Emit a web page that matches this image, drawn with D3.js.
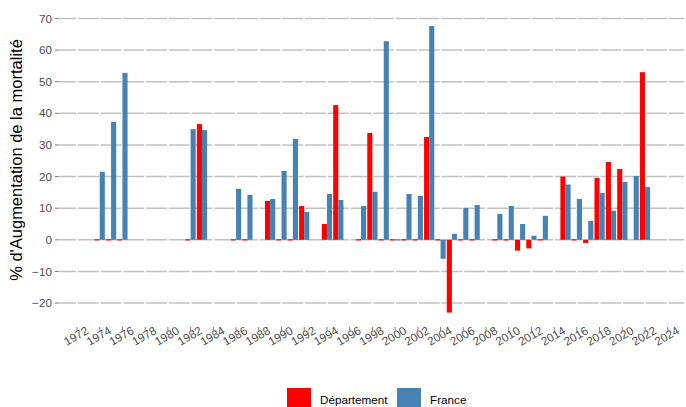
<!DOCTYPE html>
<html><head><meta charset="utf-8">
<script src="https://cdn.jsdelivr.net/npm/d3@7"></script>
<style>
html,body{margin:0;padding:0;background:#fff;}
svg{display:block;font-family:"Liberation Sans",Arial,Helvetica,sans-serif;}
</style></head>
<body>
<svg id="chart" width="686" height="407"></svg>
<script>
const years = [1974,1975,1976,1982,1983,1986,1987,1989,1990,1991,1992,1994,1995,1997,1998,1999,2000,2001,2002,2003,2004,2005,2006,2007,2009,2010,2011,2012,2013,2015,2016,2017,2018,2019,2020,2021,2022];
const departement = [0,0,0,0,36.6,0,0,12.3,0,0,10.7,5.0,42.6,0,33.8,0,0,0,0,32.5,0,-23.0,0,0,0,0,-3.4,-2.7,0,20.0,0,-1.0,19.6,24.6,22.4,null,53.0];
const france = [21.5,37.3,52.8,35.0,34.7,16.1,14.2,12.9,21.8,31.9,8.8,14.5,12.6,10.7,15.2,62.8,0,14.5,13.9,67.6,-6.0,1.9,10.1,11.0,8.2,10.7,5.0,1.3,7.6,17.5,12.9,6.0,14.8,9.2,18.3,20.2,16.7];
const seriesNames = ["Département","France"];
const seriesColors = ["#FF0000","#4682B4"];
const xTicks = d3.range(1972, 2025, 2);
const yTicks = [-20,-10,0,10,20,30,40,50,60,70];
const yTitle = "% d'Augmentation de la mortalité";

const svg = d3.select("#chart");
const L = 58.5, R = 684, T = 11.7, B = 327;
const x = d3.scaleLinear().domain([1970.371, 2025.43]).range([L, R]);
const y = d3.scaleLinear().domain([-27.56, 72.13]).range([B, T]);

// horizontal grid
svg.append("g").selectAll("line").data(yTicks).join("line")
  .attr("x1", L).attr("x2", R).attr("y1", d => y(d)).attr("y2", d => y(d))
  .attr("stroke", "#c2c2c2").attr("stroke-width", 1.5);
// white breaks at x ticks
svg.append("g").selectAll("line").data(xTicks).join("line")
  .attr("x1", d => x(d)).attr("x2", d => x(d)).attr("y1", T).attr("y2", B)
  .attr("stroke", "#fff").attr("stroke-width", 1.8);

// bars
const bw = x(1972.45) - x(1972);
const rows = years.map((yr, i) => ({yr, vals: [departement[i], france[i]]}));
const bars = [];
rows.forEach(r => r.vals.forEach((v, k) => { if (v !== null) bars.push({yr: r.yr, v, k}); }));
svg.append("g").selectAll("rect").data(bars).join("rect")
  .attr("x", d => x(d.yr) + (d.k === 0 ? -bw : 0))
  .attr("width", bw)
  .attr("y", d => {
    const h = Math.abs(y(d.v) - y(0));
    return h < 1.2 ? y(0) - 0.6 : Math.min(y(d.v), y(0));
  })
  .attr("height", d => Math.max(Math.abs(y(d.v) - y(0)), 1.2))
  .attr("fill", d => seriesColors[d.k]);

// y axis
const gy = svg.append("g");
gy.selectAll("line").data(yTicks).join("line")
  .attr("x1", L - 3.7).attr("x2", L).attr("y1", d => y(d)).attr("y2", d => y(d))
  .attr("stroke", "#555").attr("stroke-width", 0.8);
gy.selectAll("text").data(yTicks).join("text")
  .attr("x", L - 6.6).attr("y", d => y(d)).attr("dy", "0.35em")
  .attr("text-anchor", "end").attr("font-size", 11.7).attr("fill", "#4d4d4d")
  .text(d => d < 0 ? "\u2212" + Math.abs(d) : d);

// x axis
const gx = svg.append("g");
gx.selectAll("line").data(xTicks).join("line")
  .attr("x1", d => x(d)).attr("x2", d => x(d)).attr("y1", B).attr("y2", B + 3.7)
  .attr("stroke", "#555").attr("stroke-width", 0.8);
gx.selectAll("text").data(xTicks).join("text")
  .attr("transform", d => `translate(${x(d) - 1},${B + 9}) rotate(-30)`)
  .attr("text-anchor", "middle").attr("dy", "0.35em")
  .attr("font-size", 11.7).attr("fill", "#4d4d4d")
  .text(d => d);

// y title
svg.append("text")
  .attr("transform", `translate(16,160) rotate(-90)`)
  .attr("text-anchor", "middle").attr("dy", "0.35em")
  .attr("font-size", 16.5).attr("fill", "#000")
  .text(yTitle);

// legend
const legX = [287, 397];
const lg = svg.append("g");
seriesNames.forEach((n, i) => {
  lg.append("rect").attr("x", legX[i]).attr("y", 388).attr("width", 24).attr("height", 24)
    .attr("fill", seriesColors[i]);
  lg.append("text").attr("x", legX[i] + 33).attr("y", 400).attr("dy", "0.35em")
    .attr("font-size", 11.7).attr("fill", "#000").text(n);
});
</script>
</body></html>
